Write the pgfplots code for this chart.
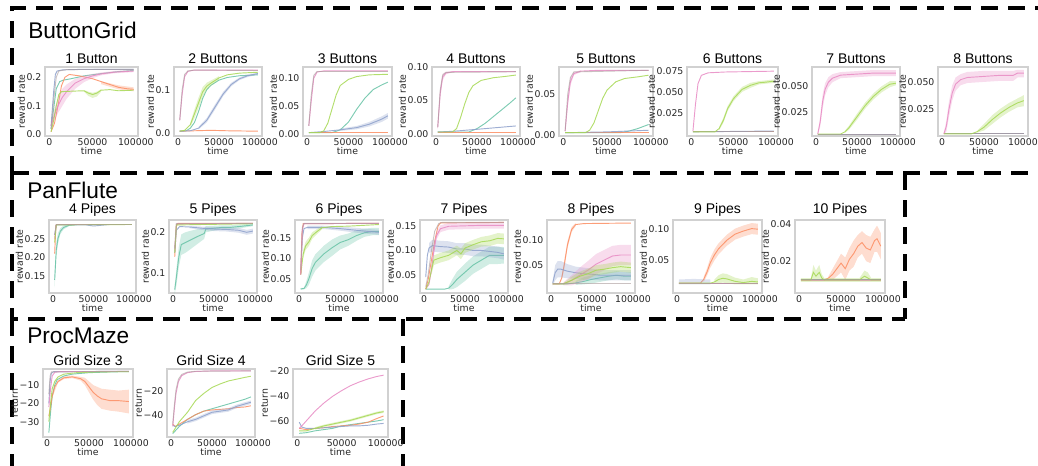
\documentclass[border=0pt]{standalone}
\usepackage{pgfplots}
\pgfplotsset{compat=1.18}
\usepackage{fontspec}
\setmainfont{Liberation Sans}
\newfontfamily\dv{DejaVu Sans}
\newcommand{\tk}{\dv\fontsize{7}{8.4}\selectfont}
\newcommand{\ttl}{\fontsize{10.5}{12}\selectfont}
\definecolor{T}{HTML}{66C2A5}
\definecolor{O}{HTML}{FC8D62}
\definecolor{P}{HTML}{8DA0CB}
\definecolor{K}{HTML}{E78AC3}
\definecolor{G}{HTML}{A6D854}
\definecolor{Y}{HTML}{A89A9A}
\pgfplotsset{
  base/.style={scale only axis, anchor=north west, clip=true,
    scaled x ticks=false, scaled y ticks=false,
    xmin=-5000, xmax=102500, xtick={0,50000,100000}, xticklabels={0,50000,100000},
    axis line style={draw=black!18, line width=0.8pt},
    major tick length=0pt, tick style={draw=none},
    ticklabel style={font=\tk, text=black!85},
    xticklabel style={inner sep=1.5pt},
    yticklabel style={inner sep=2.5pt},
    xlabel=time, xlabel style={font=\tk, text=black!85, at={(axis description cs:0.5,0)}, anchor=center, yshift=-11.5pt, inner sep=0.5pt},
    ylabel=reward rate, ylabel style={font=\tk, text=black!85, inner sep=0.5pt}, ylabel shift=-2pt,
    title style={font=\ttl, yshift=-7pt},
    every axis plot/.append style={line width=0.7pt, mark=none, forget plot},
  },
  r1/.style={base, height=51.75pt},
  r2/.style={base, height=54.75pt},
  r3/.style={base, height=51pt, ylabel=return},
  lT/.style={color=T, draw opacity=0.85}, lO/.style={color=O, draw opacity=0.85}, lP/.style={color=P, draw opacity=0.85},
  lK/.style={color=K, draw opacity=0.85}, lG/.style={color=G, draw opacity=0.85}, lY/.style={color=Y, draw opacity=0.6},
  bT/.style={fill=T, fill opacity=0.3, draw=none},
  bO/.style={fill=O, fill opacity=0.3, draw=none},
  bP/.style={fill=P, fill opacity=0.3, draw=none},
  bK/.style={fill=K, fill opacity=0.3, draw=none},
  bG/.style={fill=G, fill opacity=0.3, draw=none},
}
\begin{document}
\begin{tikzpicture}
\useasboundingbox (0,0) rectangle (778.5pt,-348.75pt);
% dashed group frames
\begin{scope}[line width=3pt, dash pattern=on 12.75pt off 7.5pt]
\draw (9pt,-129.75pt) -- (9pt,-6pt) -- (790pt,-6pt);
\draw (9pt,-129.75pt) -- (790pt,-129.75pt);
\draw (9pt,-129.75pt) -- (9pt,-239.25pt) -- (678.75pt,-239.25pt);
\draw (678.75pt,-129.75pt) -- (678.75pt,-239.25pt);
\draw (9pt,-239.25pt) -- (9pt,-360pt);
\draw (302.25pt,-239.25pt) -- (302.25pt,-360pt);
\end{scope}
\node[anchor=west, font=\fontsize{17}{20}\selectfont, inner sep=0pt] at (21pt,-22.5pt) {ButtonGrid};
\node[anchor=west, font=\fontsize{17}{20}\selectfont, inner sep=0pt] at (20.25pt,-142.5pt) {PanFlute};
\node[anchor=west, font=\fontsize{17}{20}\selectfont, inner sep=0pt] at (20.25pt,-252pt) {ProcMaze};

% ===== Row 1: ButtonGrid =====
\begin{axis}[r1, at={(33.75pt,-50.25pt)}, width=69.75pt, title={1 Button},
  ymin=-0.005, ymax=0.236, ytick={0,0.1,0.2}, yticklabels={0.0,0.1,0.2}]
\addplot[lT] coordinates {(2000,0.02)(5000,0.09)(8000,0.16)(12000,0.185)(16000,0.19)(25000,0.195)(40000,0.205)(60000,0.213)(80000,0.22)(97500,0.224)};
\addplot[bO] coordinates {(60000,0.186)(80000,0.172)(97500,0.165)(97500,0.151)(80000,0.158)(60000,0.176)};
\addplot[lO] coordinates {(2000,0.01)(6000,0.04)(10000,0.1)(14000,0.17)(18000,0.2)(23000,0.21)(35000,0.205)(50000,0.195)(65000,0.18)(80000,0.165)(90000,0.16)(97500,0.158)};
\addplot[lP] coordinates {(2000,0.03)(5000,0.15)(7000,0.21)(9000,0.222)(15000,0.226)(40000,0.228)(97500,0.228)};
\addplot[bK] coordinates {(2000,0.04)(6000,0.09)(10000,0.125)(15000,0.16)(20000,0.175)(30000,0.195)(40000,0.205)(50000,0.212)(60000,0.217)(75000,0.222)(97500,0.226)(97500,0.218)(75000,0.214)(60000,0.207)(50000,0.197)(40000,0.183)(30000,0.16)(20000,0.125)(15000,0.1)(10000,0.075)(6000,0.05)(2000,0.02)};
\addplot[lK] coordinates {(2000,0.03)(6000,0.07)(10000,0.1)(15000,0.13)(20000,0.15)(30000,0.18)(40000,0.195)(50000,0.205)(60000,0.212)(75000,0.218)(97500,0.222)};
\addplot[bG] coordinates {(40000,0.156)(45000,0.15)(50000,0.146)(55000,0.15)(60000,0.159)(60000,0.15)(55000,0.133)(50000,0.128)(45000,0.135)(40000,0.15)};
\addplot[lG] coordinates {(2000,0.01)(5000,0.05)(8000,0.1)(11000,0.14)(14000,0.15)(30000,0.152)(40000,0.153)(45000,0.145)(50000,0.14)(55000,0.145)(60000,0.155)(70000,0.157)(80000,0.153)(97500,0.155)};
\addplot[lY] coordinates {(2000,0.02)(5000,0.12)(8000,0.2)(11000,0.222)(20000,0.227)(97500,0.228)};
\end{axis}

\begin{axis}[r1, at={(130.5pt,-50.25pt)}, width=66pt, title={2 Buttons},
  ymin=-0.006, ymax=0.152, ytick={0,0.1}, yticklabels={0.0,0.1}]
\addplot[lT] coordinates {(2000,0.005)(10000,0.006)(15000,0.012)(20000,0.025)(25000,0.05)(30000,0.08)(35000,0.1)(40000,0.11)(50000,0.122)(60000,0.128)(75000,0.132)(97500,0.134)};
\addplot[lO] coordinates {(2000,0.005)(20000,0.006)(40000,0.007)(60000,0.006)(97500,0.005)};
\addplot[bP] coordinates {(25000,0.015)(35000,0.035)(45000,0.066)(55000,0.095)(65000,0.116)(75000,0.128)(85000,0.135)(97500,0.139)(97500,0.135)(85000,0.129)(75000,0.122)(65000,0.108)(55000,0.085)(45000,0.054)(35000,0.025)(25000,0.009)};
\addplot[lP] coordinates {(2000,0.005)(15000,0.006)(25000,0.012)(35000,0.03)(45000,0.06)(55000,0.09)(65000,0.112)(75000,0.125)(85000,0.132)(97500,0.137)};
\addplot[lK] coordinates {(2000,0.03)(5000,0.09)(8000,0.13)(12000,0.142)(20000,0.145)(97500,0.145)};
\addplot[bG] coordinates {(15000,0.025)(20000,0.055)(25000,0.082)(30000,0.106)(35000,0.116)(40000,0.121)(50000,0.131)(50000,0.123)(40000,0.109)(35000,0.1)(30000,0.084)(25000,0.058)(20000,0.035)(15000,0.015)};
\addplot[lG] coordinates {(2000,0.005)(8000,0.007)(15000,0.02)(20000,0.045)(25000,0.07)(30000,0.095)(35000,0.108)(40000,0.115)(50000,0.127)(60000,0.134)(75000,0.138)(97500,0.14)};
\addplot[lY] coordinates {(2000,0.03)(5000,0.1)(8000,0.135)(12000,0.143)(20000,0.145)(97500,0.144)};
\end{axis}

\begin{axis}[r1, at={(227.25pt,-50.25pt)}, width=66.75pt, title={3 Buttons},
  ymin=-0.003, ymax=0.12, ytick={0,0.05,0.1}, yticklabels={0.00,0.05,0.10}]
\addplot[lT] coordinates {(2000,0.003)(30000,0.003)(40000,0.008)(50000,0.022)(60000,0.045)(70000,0.065)(80000,0.08)(90000,0.088)(97500,0.093)};
\addplot[lO] coordinates {(2000,0.003)(97500,0.003)};
\addplot[bP] coordinates {(40000,0.01)(60000,0.015)(75000,0.022)(90000,0.032)(97500,0.038)(97500,0.028)(90000,0.022)(75000,0.014)(60000,0.009)(40000,0.006)};
\addplot[lP] coordinates {(2000,0.003)(20000,0.005)(40000,0.008)(60000,0.012)(75000,0.018)(90000,0.027)(97500,0.033)};
\addplot[lK] coordinates {(2000,0.015)(5000,0.06)(8000,0.1)(12000,0.111)(20000,0.113)(97500,0.113)};
\addplot[lG] coordinates {(2000,0.003)(15000,0.003)(20000,0.006)(25000,0.02)(30000,0.045)(35000,0.07)(40000,0.087)(50000,0.098)(60000,0.103)(75000,0.106)(97500,0.107)};
\addplot[lY] coordinates {(2000,0.015)(5000,0.07)(8000,0.105)(12000,0.112)(97500,0.112)};
\end{axis}

\begin{axis}[r1, at={(324pt,-50.25pt)}, width=66pt, title={4 Buttons},
  ymin=-0.003, ymax=0.1, ytick={0,0.05,0.1}, yticklabels={0.00,0.05,0.10}]
\addplot[lT] coordinates {(2000,0.003)(40000,0.003)(50000,0.008)(60000,0.016)(70000,0.026)(80000,0.036)(90000,0.046)(97500,0.054)};
\addplot[lO] coordinates {(2000,0.003)(97500,0.003)};
\addplot[lP] coordinates {(2000,0.003)(20000,0.004)(50000,0.007)(97500,0.012)};
\addplot[bK] coordinates {(2000,0.013)(5000,0.067)(8000,0.09)(12000,0.093)(20000,0.094)(20000,0.092)(12000,0.089)(8000,0.08)(5000,0.053)(2000,0.007)};
\addplot[lK] coordinates {(2000,0.01)(5000,0.06)(8000,0.085)(12000,0.091)(20000,0.093)(97500,0.093)};
\addplot[lG] coordinates {(2000,0.003)(20000,0.003)(25000,0.008)(30000,0.025)(35000,0.045)(40000,0.062)(45000,0.072)(55000,0.08)(70000,0.084)(85000,0.086)(97500,0.088)};
\addplot[lY] coordinates {(2000,0.01)(5000,0.065)(8000,0.088)(12000,0.092)(97500,0.093)};
\end{axis}

\begin{axis}[r1, at={(419.25pt,-50.25pt)}, width=70.5pt, title={5 Buttons},
  ymin=-0.001, ymax=0.083, ytick={0,0.05}, yticklabels={0.00,0.05}]
\addplot[lT] coordinates {(2000,0.003)(65000,0.003)(75000,0.005)(85000,0.008)(97500,0.013)};
\addplot[lO] coordinates {(2000,0.003)(97500,0.003)};
\addplot[lP] coordinates {(2000,0.003)(50000,0.004)(97500,0.006)};
\addplot[bK] coordinates {(2000,0.007)(5000,0.046)(8000,0.07)(12000,0.077)(20000,0.079)(20000,0.077)(12000,0.073)(8000,0.06)(5000,0.034)(2000,0.003)};
\addplot[lK] coordinates {(2000,0.005)(5000,0.04)(8000,0.065)(12000,0.075)(20000,0.078)(40000,0.079)(97500,0.079)};
\addplot[lG] coordinates {(2000,0.003)(25000,0.003)(30000,0.006)(35000,0.015)(40000,0.03)(45000,0.045)(50000,0.055)(60000,0.065)(70000,0.069)(85000,0.071)(97500,0.073)};
\addplot[lY] coordinates {(2000,0.005)(5000,0.05)(8000,0.07)(12000,0.077)(97500,0.079)};
\end{axis}

\begin{axis}[r1, at={(515.25pt,-50.25pt)}, width=68.25pt, title={6 Buttons},
  ymin=-0.003, ymax=0.08, ytick={0.025,0.05,0.075}, yticklabels={0.025,0.050,0.075}]
\addplot[lT] coordinates {(2000,0.002)(97500,0.002)};
\addplot[lO] coordinates {(2000,0.002)(97500,0.002)};
\addplot[lP] coordinates {(2000,0.002)(97500,0.003)};
\addplot[lY] coordinates {(2000,0.003)(97500,0.003)};
\addplot[lK] coordinates {(2000,0.003)(5000,0.035)(8000,0.06)(12000,0.07)(20000,0.073)(40000,0.074)(97500,0.075)};
\addplot[bG] coordinates {(33000,0.008)(38000,0.019)(43000,0.033)(50000,0.045)(60000,0.056)(70000,0.061)(80000,0.063)(97500,0.065)(97500,0.061)(80000,0.059)(70000,0.055)(60000,0.05)(50000,0.039)(43000,0.027)(38000,0.013)(33000,0.004)};
\addplot[lG] coordinates {(2000,0.002)(28000,0.002)(33000,0.006)(38000,0.016)(43000,0.03)(50000,0.042)(60000,0.053)(70000,0.058)(80000,0.061)(90000,0.062)(97500,0.063)};
\end{axis}

\begin{axis}[r1, at={(609pt,-50.25pt)}, width=66pt, title={7 Buttons},
  ymin=0.001, ymax=0.069, ytick={0.025,0.05}, yticklabels={0.025,0.050}]
\addplot[lT] coordinates {(2000,0.003)(97500,0.003)};
\addplot[lO] coordinates {(2000,0.003)(97500,0.003)};
\addplot[lP] coordinates {(2000,0.003)(97500,0.003)};
\addplot[lY] coordinates {(2000,0.003)(97500,0.003)};
\addplot[bK] coordinates {(2000,0.004)(5000,0.02)(8000,0.042)(11000,0.053)(15000,0.059)(20000,0.062)(30000,0.064)(50000,0.065)(70000,0.066)(97500,0.066)(97500,0.06)(70000,0.06)(50000,0.059)(30000,0.058)(20000,0.054)(15000,0.049)(11000,0.041)(8000,0.028)(5000,0.01)(2000,0.002)};
\addplot[lK] coordinates {(2000,0.003)(5000,0.015)(8000,0.035)(11000,0.047)(15000,0.054)(20000,0.058)(30000,0.061)(50000,0.062)(70000,0.063)(97500,0.063)};
\addplot[bG] coordinates {(35000,0.006)(40000,0.011)(50000,0.023)(60000,0.034)(70000,0.043)(80000,0.05)(90000,0.055)(97500,0.055)(97500,0.051)(90000,0.049)(80000,0.044)(70000,0.037)(60000,0.028)(50000,0.017)(40000,0.007)(35000,0.004)};
\addplot[lG] coordinates {(2000,0.003)(30000,0.003)(35000,0.005)(40000,0.009)(50000,0.02)(60000,0.031)(70000,0.04)(80000,0.047)(90000,0.052)(97500,0.053)};
\end{axis}

\begin{axis}[r1, at={(703.5pt,-50.25pt)}, width=67.5pt, title={8 Buttons},
  ymin=0.001, ymax=0.0635, ytick={0.025,0.05}, yticklabels={0.025,0.050}]
\addplot[lT] coordinates {(2000,0.003)(97500,0.003)};
\addplot[lO] coordinates {(2000,0.003)(97500,0.003)};
\addplot[lP] coordinates {(2000,0.003)(97500,0.003)};
\addplot[lY] coordinates {(2000,0.003)(97500,0.003)};
\addplot[bK] coordinates {(2000,0.004)(5000,0.015)(8000,0.032)(12000,0.047)(16000,0.054)(22000,0.057)(30000,0.059)(50000,0.06)(70000,0.06)(85000,0.06)(90000,0.061)(97500,0.061)(97500,0.054)(90000,0.054)(85000,0.051)(70000,0.051)(50000,0.05)(30000,0.049)(22000,0.047)(16000,0.042)(12000,0.033)(8000,0.018)(5000,0.005)(2000,0.002)};
\addplot[lK] coordinates {(2000,0.003)(5000,0.01)(8000,0.025)(12000,0.04)(16000,0.048)(22000,0.052)(30000,0.054)(50000,0.055)(70000,0.056)(85000,0.056)(90000,0.058)(97500,0.058)};
\addplot[bG] coordinates {(42000,0.006)(50000,0.012)(60000,0.02)(70000,0.026)(80000,0.031)(90000,0.035)(97500,0.038)(97500,0.028)(90000,0.027)(80000,0.023)(70000,0.018)(60000,0.012)(50000,0.006)(42000,0.004)};
\addplot[lG] coordinates {(2000,0.003)(35000,0.003)(42000,0.005)(50000,0.009)(60000,0.016)(70000,0.022)(80000,0.027)(90000,0.031)(97500,0.033)};
\end{axis}

% ===== Row 2: PanFlute =====
\begin{axis}[r2, at={(36.75pt,-165pt)}, width=65.25pt, title={4 Pipes},
  ymin=0.105, ymax=0.30, ytick={0.15,0.2,0.25}, yticklabels={0.15,0.20,0.25}]
\addplot[bT] coordinates {(2000,0.16)(4000,0.24)(6000,0.265)(9000,0.278)(13000,0.285)(20000,0.288)(30000,0.289)(97500,0.289)(97500,0.287)(30000,0.287)(20000,0.284)(13000,0.275)(9000,0.262)(6000,0.235)(4000,0.2)(2000,0.12)};
\addplot[lT] coordinates {(2000,0.14)(4000,0.22)(6000,0.25)(9000,0.27)(13000,0.28)(20000,0.286)(30000,0.288)(97500,0.288)};
\addplot[lO] coordinates {(2000,0.21)(3500,0.285)(5000,0.288)(97500,0.288)};
\addplot[lP] coordinates {(2000,0.26)(4000,0.287)(40000,0.287)(50000,0.284)(60000,0.286)(70000,0.288)(97500,0.288)};
\addplot[lK] coordinates {(2000,0.25)(4000,0.288)(97500,0.288)};
\addplot[lG] coordinates {(2000,0.24)(4000,0.287)(97500,0.288)};
\addplot[lY] coordinates {(2000,0.26)(4000,0.288)(97500,0.288)};
\end{axis}

\begin{axis}[r2, at={(126.75pt,-165pt)}, width=66pt, title={5 Pipes},
  ymin=0.052, ymax=0.230, ytick={0.1,0.2}, yticklabels={0.1,0.2}]
\addplot[bT] coordinates {(2000,0.07)(4000,0.11)(7000,0.165)(10000,0.195)(15000,0.2)(20000,0.203)(30000,0.208)(38000,0.21)(40000,0.215)(50000,0.216)(60000,0.217)(70000,0.217)(85000,0.219)(97500,0.221)(97500,0.215)(85000,0.211)(70000,0.207)(60000,0.207)(50000,0.204)(40000,0.2)(38000,0.184)(30000,0.172)(20000,0.157)(15000,0.15)(10000,0.145)(7000,0.115)(4000,0.07)(2000,0.05)};
\addplot[lT] coordinates {(2000,0.06)(4000,0.09)(7000,0.14)(10000,0.17)(15000,0.175)(20000,0.18)(30000,0.19)(38000,0.197)(40000,0.208)(50000,0.21)(60000,0.212)(70000,0.212)(85000,0.215)(97500,0.218)};
\addplot[lO] coordinates {(2000,0.14)(4000,0.215)(6000,0.222)(97500,0.222)};
\addplot[bP] coordinates {(20000,0.216)(35000,0.214)(50000,0.213)(65000,0.212)(80000,0.211)(90000,0.206)(97500,0.209)(97500,0.197)(90000,0.194)(80000,0.199)(65000,0.202)(50000,0.203)(35000,0.206)(20000,0.21)};
\addplot[lP] coordinates {(2000,0.15)(4000,0.205)(8000,0.214)(20000,0.213)(35000,0.21)(50000,0.208)(65000,0.207)(80000,0.205)(90000,0.2)(97500,0.203)};
\addplot[lK] coordinates {(2000,0.16)(4000,0.22)(97500,0.222)};
\addplot[lG] coordinates {(2000,0.15)(4000,0.218)(97500,0.221)};
\addplot[lY] coordinates {(2000,0.16)(4000,0.221)(97500,0.222)};
\end{axis}

\begin{axis}[r2, at={(221.25pt,-165pt)}, width=66pt, title={6 Pipes},
  ymin=0.015, ymax=0.193, ytick={0.05,0.1,0.15}, yticklabels={0.05,0.10,0.15}]
\addplot[bT] coordinates {(2000,0.027)(6000,0.028)(9000,0.045)(12000,0.065)(16000,0.095)(20000,0.11)(25000,0.12)(30000,0.13)(40000,0.145)(50000,0.155)(60000,0.16)(70000,0.168)(80000,0.172)(90000,0.174)(97500,0.174)(97500,0.156)(90000,0.156)(80000,0.152)(70000,0.142)(60000,0.13)(50000,0.121)(40000,0.105)(30000,0.09)(25000,0.08)(20000,0.07)(16000,0.055)(12000,0.035)(9000,0.027)(6000,0.024)(2000,0.023)};
\addplot[lT] coordinates {(2000,0.025)(6000,0.026)(9000,0.035)(12000,0.05)(16000,0.075)(20000,0.09)(25000,0.1)(30000,0.11)(40000,0.125)(50000,0.138)(60000,0.145)(70000,0.155)(80000,0.162)(90000,0.165)(97500,0.165)};
\addplot[bP] coordinates {(10000,0.179)(30000,0.179)(50000,0.177)(70000,0.174)(85000,0.171)(97500,0.169)(97500,0.157)(85000,0.159)(70000,0.162)(50000,0.167)(30000,0.171)(10000,0.171)};
\addplot[lP] coordinates {(2000,0.06)(4000,0.15)(6000,0.172)(10000,0.175)(30000,0.175)(50000,0.172)(70000,0.168)(85000,0.165)(97500,0.163)};
\addplot[bG] coordinates {(5000,0.12)(8000,0.14)(12000,0.15)(16000,0.163)(22000,0.171)(28000,0.178)(28000,0.17)(22000,0.159)(16000,0.147)(12000,0.13)(8000,0.12)(5000,0.1)};
\addplot[lG] coordinates {(2000,0.06)(5000,0.11)(8000,0.13)(12000,0.14)(16000,0.155)(22000,0.165)(28000,0.174)(40000,0.177)(60000,0.178)(97500,0.182)};
\addplot[lO] coordinates {(2000,0.06)(3500,0.16)(5000,0.184)(97500,0.185)};
\addplot[lK] coordinates {(2000,0.06)(4000,0.17)(6000,0.184)(97500,0.185)};
\addplot[lY] coordinates {(2000,0.07)(4000,0.175)(6000,0.185)(97500,0.185)};
\end{axis}

\begin{axis}[r2, at={(315pt,-165pt)}, width=66pt, title={7 Pipes},
  ymin=0.012, ymax=0.163, ytick={0.05,0.1,0.15}, yticklabels={0.05,0.10,0.15}]
\addplot[bT] coordinates {(30000,0.026)(35000,0.042)(40000,0.056)(50000,0.073)(60000,0.088)(70000,0.098)(80000,0.108)(90000,0.108)(97500,0.107)(97500,0.073)(90000,0.072)(80000,0.072)(70000,0.062)(60000,0.052)(50000,0.037)(40000,0.024)(35000,0.02)(30000,0.019)};
\addplot[lT] coordinates {(2000,0.02)(25000,0.02)(30000,0.022)(35000,0.03)(40000,0.04)(50000,0.055)(60000,0.07)(70000,0.08)(80000,0.09)(90000,0.09)(97500,0.09)};
\addplot[lO] coordinates {(2000,0.02)(5000,0.04)(9000,0.08)(13000,0.12)(17000,0.15)(20000,0.157)(97500,0.158)};
\addplot[bP] coordinates {(6000,0.115)(10000,0.122)(20000,0.12)(30000,0.119)(40000,0.115)(50000,0.115)(60000,0.112)(70000,0.112)(80000,0.11)(90000,0.108)(97500,0.105)(97500,0.081)(90000,0.084)(80000,0.086)(70000,0.088)(60000,0.088)(50000,0.091)(40000,0.091)(30000,0.095)(20000,0.096)(10000,0.098)(6000,0.095)};
\addplot[lP] coordinates {(2000,0.045)(4000,0.09)(6000,0.105)(10000,0.11)(20000,0.108)(30000,0.107)(40000,0.103)(50000,0.103)(60000,0.1)(70000,0.1)(80000,0.098)(90000,0.096)(97500,0.093)};
\addplot[bK] coordinates {(9000,0.07)(12000,0.11)(15000,0.138)(20000,0.152)(30000,0.157)(50000,0.158)(70000,0.159)(97500,0.159)(97500,0.145)(70000,0.145)(50000,0.144)(30000,0.143)(20000,0.138)(15000,0.122)(12000,0.09)(9000,0.05)};
\addplot[lK] coordinates {(2000,0.02)(6000,0.03)(9000,0.06)(12000,0.1)(15000,0.13)(20000,0.145)(30000,0.15)(50000,0.151)(70000,0.152)(97500,0.152)};
\addplot[bG] coordinates {(9000,0.07)(12000,0.09)(20000,0.095)(30000,0.1)(40000,0.11)(45000,0.104)(50000,0.115)(60000,0.122)(70000,0.128)(80000,0.131)(90000,0.136)(97500,0.135)(97500,0.113)(90000,0.114)(80000,0.109)(70000,0.108)(60000,0.102)(50000,0.095)(45000,0.082)(40000,0.09)(30000,0.08)(20000,0.075)(12000,0.07)(9000,0.05)};
\addplot[lG] coordinates {(2000,0.02)(6000,0.035)(9000,0.06)(12000,0.08)(20000,0.085)(30000,0.09)(40000,0.1)(45000,0.093)(50000,0.105)(60000,0.112)(70000,0.118)(80000,0.12)(90000,0.125)(97500,0.124)};
\addplot[lY] coordinates {(2000,0.025)(5000,0.05)(9000,0.1)(13000,0.14)(18000,0.156)(22000,0.158)(97500,0.158)};
\end{axis}

\begin{axis}[r2, at={(410.25pt,-165pt)}, width=66pt, title={8 Pipes},
  ymin=-0.005, ymax=0.139, ytick={0.05,0.1}, yticklabels={0.05,0.10}]
\addplot[bT] coordinates {(30000,0.019)(40000,0.026)(50000,0.03)(60000,0.033)(70000,0.036)(80000,0.038)(90000,0.036)(97500,0.036)(97500,0.02)(90000,0.02)(80000,0.022)(70000,0.02)(60000,0.017)(50000,0.014)(40000,0.012)(30000,0.011)};
\addplot[lT] coordinates {(2000,0.013)(20000,0.013)(30000,0.015)(40000,0.018)(50000,0.022)(60000,0.025)(70000,0.028)(80000,0.03)(90000,0.028)(97500,0.028)};
\addplot[bO] coordinates {(13000,0.03)(16000,0.058)(20000,0.097)(25000,0.125)(30000,0.133)(30000,0.127)(25000,0.115)(20000,0.083)(16000,0.042)(13000,0.02)};
\addplot[lO] coordinates {(2000,0.013)(10000,0.013)(13000,0.025)(16000,0.05)(20000,0.09)(25000,0.12)(30000,0.13)(40000,0.132)(97500,0.133)};
\addplot[bP] coordinates {(2000,0.02)(5000,0.05)(8000,0.058)(12000,0.058)(20000,0.052)(30000,0.047)(40000,0.045)(50000,0.043)(60000,0.04)(80000,0.04)(97500,0.04)(97500,0.02)(80000,0.02)(60000,0.02)(50000,0.021)(40000,0.021)(30000,0.023)(20000,0.024)(12000,0.026)(8000,0.026)(5000,0.02)(2000,0.01)};
\addplot[lP] coordinates {(2000,0.015)(5000,0.035)(8000,0.042)(12000,0.042)(20000,0.038)(30000,0.035)(40000,0.033)(50000,0.032)(60000,0.03)(80000,0.03)(97500,0.03)};
\addplot[bK] coordinates {(15000,0.016)(25000,0.03)(35000,0.045)(45000,0.058)(55000,0.072)(65000,0.08)(75000,0.088)(85000,0.09)(97500,0.09)(97500,0.05)(85000,0.05)(75000,0.048)(65000,0.04)(55000,0.032)(45000,0.022)(35000,0.015)(25000,0.01)(15000,0.01)};
\addplot[lK] coordinates {(2000,0.013)(15000,0.013)(25000,0.02)(35000,0.03)(45000,0.04)(55000,0.052)(65000,0.06)(75000,0.068)(85000,0.07)(97500,0.07)};
\addplot[bG] coordinates {(15000,0.015)(25000,0.027)(35000,0.037)(45000,0.043)(55000,0.05)(65000,0.052)(75000,0.055)(85000,0.057)(97500,0.055)(97500,0.035)(85000,0.037)(75000,0.035)(65000,0.032)(55000,0.03)(45000,0.023)(35000,0.019)(25000,0.013)(15000,0.011)};
\addplot[lG] coordinates {(2000,0.013)(15000,0.013)(25000,0.02)(35000,0.028)(45000,0.033)(55000,0.04)(65000,0.042)(75000,0.045)(85000,0.047)(97500,0.045)};
\addplot[lY] coordinates {(2000,0.013)(97500,0.013)};
\end{axis}

\begin{axis}[r2, at={(504.75pt,-165pt)}, width=66.75pt, title={9 Pipes},
  ymin=-0.004, ymax=0.115, ytick={0.05,0.1}, yticklabels={0.05,0.10}]
\addplot[lT] coordinates {(2000,0.012)(97500,0.012)};
\addplot[bO] coordinates {(32000,0.022)(36000,0.036)(40000,0.053)(45000,0.067)(50000,0.077)(55000,0.084)(60000,0.091)(65000,0.096)(70000,0.101)(80000,0.106)(90000,0.11)(97500,0.109)(97500,0.091)(90000,0.092)(80000,0.088)(70000,0.083)(65000,0.078)(60000,0.073)(55000,0.066)(50000,0.059)(45000,0.049)(40000,0.037)(36000,0.024)(32000,0.014)};
\addplot[lO] coordinates {(2000,0.012)(28000,0.012)(32000,0.018)(36000,0.03)(40000,0.045)(45000,0.058)(50000,0.068)(55000,0.075)(60000,0.082)(65000,0.087)(70000,0.092)(80000,0.097)(90000,0.101)(97500,0.1)};
\addplot[bP] coordinates {(2000,0.018)(20000,0.019)(40000,0.018)(40000,0.01)(20000,0.01)(2000,0.01)};
\addplot[lP] coordinates {(2000,0.012)(97500,0.012)};
\addplot[lK] coordinates {(2000,0.012)(97500,0.012)};
\addplot[bG] coordinates {(45000,0.018)(50000,0.025)(55000,0.028)(60000,0.027)(65000,0.024)(70000,0.021)(80000,0.018)(90000,0.022)(97500,0.02)(97500,0.01)(90000,0.01)(80000,0.01)(70000,0.01)(65000,0.011)(60000,0.012)(55000,0.013)(50000,0.012)(45000,0.011)};
\addplot[lG] coordinates {(2000,0.012)(40000,0.012)(45000,0.014)(50000,0.018)(55000,0.02)(60000,0.019)(65000,0.017)(70000,0.015)(80000,0.013)(90000,0.015)(97500,0.014)};
\addplot[lY] coordinates {(2000,0.012)(97500,0.012)};
\end{axis}

\begin{axis}[r2, at={(596.25pt,-165pt)}, width=67.5pt, title={10 Pipes},
  ymin=0.003, ymax=0.042, ytick={0.02,0.04}, yticklabels={0.02,0.04}]
\addplot[lT] coordinates {(2000,0.01)(97500,0.01)};
\addplot[bO] coordinates {(35000,0.012)(40000,0.016)(45000,0.02)(50000,0.024)(55000,0.022)(60000,0.027)(65000,0.031)(70000,0.034)(75000,0.036)(80000,0.034)(85000,0.033)(90000,0.037)(93000,0.039)(97500,0.035)(97500,0.021)(93000,0.025)(90000,0.025)(85000,0.019)(80000,0.02)(75000,0.024)(70000,0.022)(65000,0.017)(60000,0.015)(55000,0.01)(50000,0.014)(45000,0.012)(40000,0.01)(35000,0.01)};
\addplot[lO] coordinates {(2000,0.01)(30000,0.01)(35000,0.011)(40000,0.013)(45000,0.016)(50000,0.019)(55000,0.016)(60000,0.021)(65000,0.024)(70000,0.028)(75000,0.03)(80000,0.027)(85000,0.026)(90000,0.031)(93000,0.032)(97500,0.028)};
\addplot[lP] coordinates {(2000,0.01)(97500,0.01)};
\addplot[lK] coordinates {(2000,0.0098)(97500,0.0098)};
\addplot[bG] coordinates {(2000,0.011)(14000,0.011)(17000,0.018)(20000,0.015)(24000,0.018)(27000,0.013)(30000,0.011)(72000,0.011)(78000,0.015)(82000,0.014)(86000,0.011)(97500,0.011)(97500,0.009)(2000,0.009)};
\addplot[lG] coordinates {(2000,0.01)(14000,0.01)(17000,0.014)(20000,0.012)(24000,0.014)(27000,0.011)(30000,0.01)(72000,0.01)(78000,0.012)(82000,0.011)(86000,0.01)(97500,0.01)};
\addplot[lY] coordinates {(2000,0.01)(97500,0.01)};
\end{axis}

% ===== Row 3: ProcMaze =====
\begin{axis}[r3, at={(32.25pt,-276.75pt)}, width=67.5pt, title={Grid Size 3},
  ymin=-38.4, ymax=-1.2, ytick={-30,-20,-10}, yticklabels={−30,−20,−10}]
\addplot[lT] coordinates {(2000,-36)(4000,-25)(6000,-16)(9000,-10)(12000,-7)(20000,-5)(30000,-4)(50000,-3.2)(75000,-2.8)(97500,-2.6)};
\addplot[bO] coordinates {(2000,-25.5)(6000,-15)(13000,-7.3)(20000,-5.3)(30000,-4.8)(40000,-5.5)(45000,-6)(50000,-8)(55000,-10)(60000,-11)(65000,-12)(75000,-12.5)(85000,-13)(97500,-12.5)(97500,-25.5)(85000,-24.5)(75000,-24)(65000,-23)(60000,-21)(55000,-18)(50000,-14)(45000,-10)(40000,-7.5)(30000,-6.2)(20000,-6.7)(13000,-8.7)(6000,-17)(2000,-28.5)};
\addplot[lO] coordinates {(2000,-27)(4000,-22)(6000,-16)(9000,-11)(13000,-8)(20000,-6)(30000,-5.5)(40000,-6.5)(45000,-8)(50000,-11)(55000,-14)(60000,-16)(65000,-17.5)(75000,-18.5)(85000,-18.5)(97500,-19)};
\addplot[lP] coordinates {(2000,-20)(3500,-8)(5000,-3.5)(8000,-2.6)(97500,-2.5)};
\addplot[lK] coordinates {(2000,-22)(4000,-12)(6000,-5)(9000,-3)(15000,-2.6)(97500,-2.5)};
\addplot[lG] coordinates {(2000,-30)(4000,-20)(6000,-12)(9000,-8)(13000,-5.5)(20000,-4)(35000,-3.2)(60000,-2.8)(97500,-2.6)};
\addplot[lY] coordinates {(2000,-15)(3500,-5)(5000,-2.8)(97500,-2.5)};
\end{axis}

\begin{axis}[r3, at={(125.25pt,-276.75pt)}, width=66pt, title={Grid Size 4},
  ymin=-58.9, ymax=-1.4, ytick={-40,-20}, yticklabels={−40,−20}]
\addplot[lT] coordinates {(2000,-56)(10000,-50)(20000,-44)(30000,-40)(40000,-37)(50000,-35)(60000,-33)(70000,-31)(80000,-29)(90000,-27)(97500,-25)};
\addplot[lO] coordinates {(2000,-48)(5000,-50)(10000,-48)(20000,-44)(30000,-40)(40000,-37)(50000,-36)(60000,-35.5)(70000,-35)(80000,-34)(90000,-33.5)(97500,-32.5)};
\addplot[bP] coordinates {(20000,-44.5)(30000,-42.5)(40000,-39.5)(50000,-36.5)(60000,-35.5)(70000,-34.5)(80000,-31.5)(90000,-29.5)(97500,-28)(97500,-31)(90000,-32.5)(80000,-34.5)(70000,-37.5)(60000,-38.5)(50000,-39.5)(40000,-42.5)(30000,-45.5)(20000,-47.5)};
\addplot[lP] coordinates {(2000,-49)(5000,-50)(10000,-49)(20000,-46)(30000,-44)(40000,-41)(50000,-38)(60000,-37)(70000,-36)(80000,-33)(90000,-31)(97500,-29.5)};
\addplot[lK] coordinates {(2000,-50)(4000,-35)(6000,-22)(9000,-12)(13000,-7)(20000,-4.5)(30000,-3.5)(50000,-3)(97500,-3)};
\addplot[lG] coordinates {(2000,-55)(10000,-46)(20000,-38)(30000,-28)(40000,-22)(50000,-17)(60000,-14)(70000,-11.5)(80000,-10)(90000,-8.5)(97500,-7.5)};
\addplot[lY] coordinates {(2000,-48)(4000,-32)(6000,-19)(9000,-10)(13000,-6)(20000,-4)(30000,-3.3)(97500,-3)};
\end{axis}

\begin{axis}[r3, at={(219.75pt,-276.75pt)}, width=71.25pt, title={Grid Size 5},
  ymin=-73, ymax=-18, ytick={-60,-40,-20}, yticklabels={−60,−40,−20}]
\addplot[lT] coordinates {(2000,-70)(10000,-69.5)(20000,-68)(30000,-67)(40000,-66)(50000,-64)(60000,-63)(70000,-62)(80000,-61)(90000,-60)(97500,-59)};
\addplot[lO] coordinates {(2000,-66)(10000,-67)(20000,-66)(30000,-65.5)(40000,-64.5)(50000,-64)(60000,-63.5)(70000,-62.5)(80000,-61)(90000,-58)(97500,-56)};
\addplot[lP] coordinates {(2000,-61)(5000,-65)(10000,-66)(20000,-66)(30000,-65.5)(40000,-65)(50000,-64.5)(60000,-64)(70000,-64)(80000,-63.5)(90000,-62.5)(97500,-62)};
\addplot[lK] coordinates {(2000,-66)(5000,-64)(10000,-60)(15000,-56)(20000,-52)(30000,-45.5)(40000,-40)(50000,-35.5)(60000,-31.5)(70000,-28.5)(80000,-26)(90000,-24)(97500,-23)};
\addplot[bG] coordinates {(20000,-65)(30000,-63)(40000,-61.5)(50000,-60)(60000,-58.5)(70000,-56.5)(80000,-54.5)(90000,-52.5)(97500,-51.5)(97500,-53.5)(90000,-54.5)(80000,-56.5)(70000,-58.5)(60000,-60.5)(50000,-62)(40000,-63.5)(30000,-65)(20000,-67)};
\addplot[lG] coordinates {(2000,-68)(10000,-68)(20000,-66)(30000,-64)(40000,-62.5)(50000,-61)(60000,-59.5)(70000,-57.5)(80000,-55.5)(90000,-53.5)(97500,-52.5)};
\end{axis}
\end{tikzpicture}
\end{document}
